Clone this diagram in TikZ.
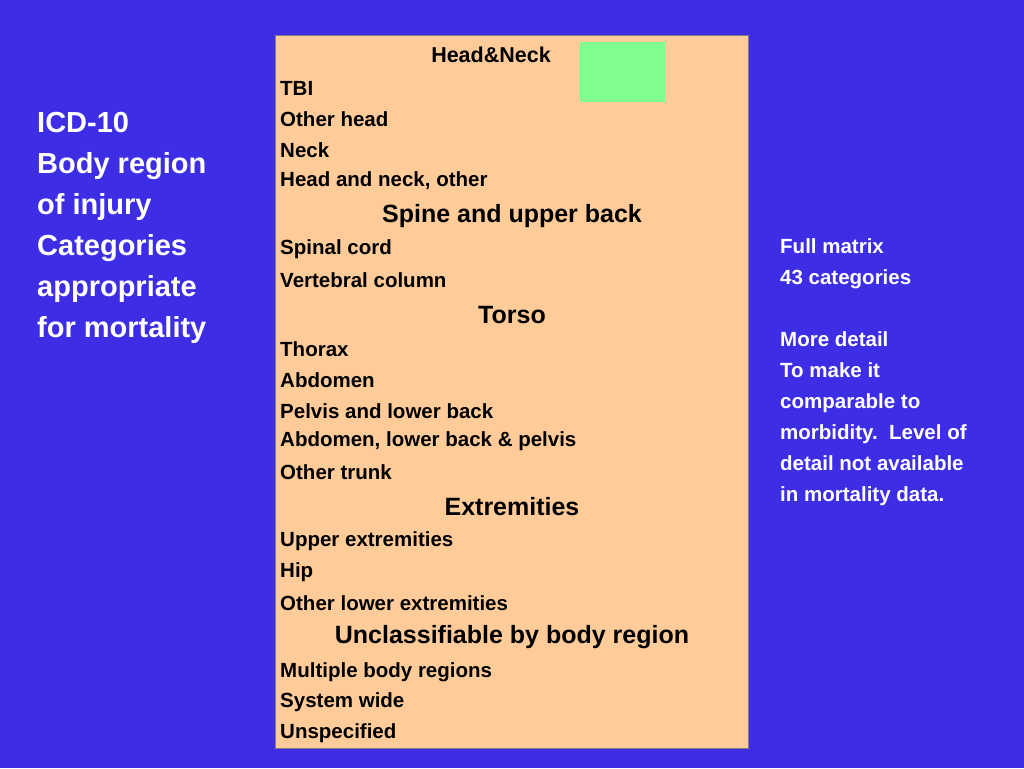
\documentclass[tikz,border=0pt]{standalone}
\usepackage{fontspec}
\setmainfont{Liberation Sans}
\begin{document}
\begin{tikzpicture}[x=1pt,y=-1pt,
 item/.style={anchor=west,inner sep=0pt,text=black,font=\bfseries\fontsize{20.5}{24}\selectfont},
 head/.style={anchor=center,inner sep=0pt,text=black,font=\bfseries\fontsize{25}{30}\selectfont},
 side/.style={anchor=north west,inner sep=0pt,text=white,align=left}]
\definecolor{bg}{HTML}{3D2EE6}
\definecolor{peach}{HTML}{FFCC99}
\definecolor{grn}{HTML}{80FF90}
\fill[bg] (0,0) rectangle (1024,768);
\useasboundingbox (0,0) rectangle (1024,768);
\node[draw=gray,fill=peach,minimum width=473pt,minimum height=713pt,inner sep=0pt] (box) at (511.5,391.5) {};
\node[fill=grn,minimum width=85pt,minimum height=60pt,inner sep=0pt] (g) at (622.5,72) {};
\node[head,font=\bfseries\fontsize{21.5}{26}\selectfont] (h1) at (491,55) {Head\&Neck};
\node[item] (a1) at (280,88) {TBI};
\node[item] (a2) at (280,119) {Other head};
\node[item] (a3) at (280,150) {Neck};
\node[item] (a4) at (280,181) {Head and neck, other};
\node[head] (h2) at (512,216) {Spine and upper back};
\node[item] (b1) at (280,249) {Spinal cord};
\node[item] (b2) at (280,280) {Vertebral column};
\node[head] (h3) at (512,315) {Torso};
\node[item] (c1) at (280,349) {Thorax};
\node[item] (c2) at (280,380) {Abdomen};
\node[item] (c3) at (280,411) {Pelvis and lower back};
\node[item] (c4) at (280,441) {Abdomen, lower back \& pelvis};
\node[item] (c5) at (280,472) {Other trunk};
\node[head] (h4) at (512,507) {Extremities};
\node[item] (d1) at (280,541) {Upper extremities};
\node[item] (d2) at (280,572) {Hip};
\node[item] (d3) at (280,603) {Other lower extremities};
\node[head] (h5) at (512,637) {Unclassifiable by body region};
\node[item] (e1) at (280,672) {Multiple body regions};
\node[item] (e2) at (280,702) {System wide};
\node[item] (e3) at (280,733) {Unspecified};
\node[side,font=\bfseries\fontsize{29}{41}\selectfont] (left) at (37,112) {ICD-10\\Body region\\of injury\\Categories\\appropriate\\for mortality};
\node[side,font=\bfseries\fontsize{20.5}{31}\selectfont] (right) at (780,238) {Full matrix\\43 categories\\[31pt]More detail\\To make it\\comparable to\\morbidity.\ \ Level of\\detail not available\\in mortality data.};
\end{tikzpicture}
\end{document}
